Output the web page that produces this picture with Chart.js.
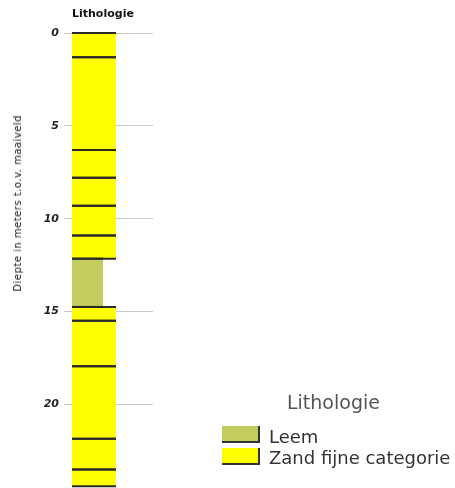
<!DOCTYPE html>
<html>
<head>
<meta charset="utf-8">
<script src="https://cdn.jsdelivr.net/npm/chart.js@4/dist/chart.umd.min.js"></script>
<style>
  html, body { margin: 0; padding: 0; background: #fff; }
  #wrap { position: relative; width: 455px; height: 488px; overflow: hidden; font-family: "DejaVu Sans", sans-serif; }
  #boring { position: absolute; left: 0; top: 0; }
  #title { position: absolute; left: 72px; top: 7px; font-size: 11px; font-weight: bold; color: #111; }
  #ytitle { position: absolute; left: 12px; top: 115px; font-size: 10px; line-height: 12px; color: #111; white-space: nowrap;
            writing-mode: vertical-rl; transform: rotate(180deg); letter-spacing: 0.5px; }
  #legend .lt { position: absolute; left: 287px; top: 393px; font-size: 19px; line-height: 19px; color: #555; }
  #legend .sw { position: absolute; left: 222px; width: 36px; height: 15px;
                border-right: 2px solid #333; border-bottom: 2px solid #333; }
  #legend .tx { position: absolute; left: 269px; font-size: 18px; line-height: 18px; color: #333; white-space: nowrap; }
</style>
</head>
<body>
<div id="wrap">
  <canvas id="boring" width="455" height="488"></canvas>
  <div id="title">Lithologie</div>
  <div id="ytitle">Diepte in meters t.o.v. maaiveld</div>
  <div id="legend"></div>
</div>
<script>
// Boring log: depth intervals (m below surface) and their lithology
const layerTop    = [0,   1.3, 6.3, 7.8, 9.3,  10.9,  12.15, 14.75, 15.5,  17.95, 21.85, 23.5];
const layerBottom = [1.3, 6.3, 7.8, 9.3, 10.9, 12.15, 14.75, 15.5,  17.95, 21.85, 23.5,  24.4];
const layerLithology = [
  'Zand fijne categorie', 'Zand fijne categorie', 'Zand fijne categorie', 'Zand fijne categorie',
  'Zand fijne categorie', 'Zand fijne categorie', 'Leem', 'Zand fijne categorie',
  'Zand fijne categorie', 'Zand fijne categorie', 'Zand fijne categorie', 'Zand fijne categorie'
];
const lithologyClasses = ['Leem', 'Zand fijne categorie'];
const depthTicks = [0, 5, 10, 15, 20];

// Drawing style per lithology: fill colour and column width (fraction of the plot width)
const lithoColor = { 'Leem': '#c3cc5e', 'Zand fijne categorie': '#ffff00' };
const lithoWidth = { 'Leem': 0.383, 'Zand fijne categorie': 0.543 };
const boundaryColor = '#2a2a2a';

// Each layer is drawn as its upper and lower boundary; the upper one is filled down to the lower one
const datasets = [];
layerTop.forEach((top, i) => {
  const litho = layerLithology[i];
  const w = lithoWidth[litho];
  const bottom = layerBottom[i];
  const edge = {
    showLine: true,
    borderColor: boundaryColor,
    borderWidth: 2,
    pointRadius: 0,
    pointHoverRadius: 0,
    clip: false
  };
  datasets.push(Object.assign({}, edge, {
    label: litho,
    data: [{ x: 0, y: top }, { x: w, y: top }],
    fill: '+1',
    backgroundColor: lithoColor[litho]
  }));
  datasets.push(Object.assign({}, edge, {
    label: litho + ' (onderkant)',
    data: [{ x: 0, y: bottom }, { x: w, y: bottom }],
    fill: false
  }));
});

new Chart(document.getElementById('boring'), {
  type: 'scatter',
  data: { datasets },
  options: {
    responsive: false,
    animation: false,
    events: [],
    layout: { padding: { top: 33, right: 302, bottom: 0, left: 0 } },
    plugins: {
      legend: { display: false },
      tooltip: { enabled: false },
      filler: { drawTime: 'beforeDatasetsDraw' }
    },
    scales: {
      x: { type: 'linear', display: false, min: 0, max: 1 },
      y: {
        type: 'linear',
        reverse: true,
        min: 0,
        max: 24.5,
        afterFit: s => {
          s.width = 72;
          // the depth column runs to the lower edge of the canvas
          s.paddingTop = 0;
          s.paddingBottom = 0;
        },
        afterBuildTicks: s => { s.ticks = depthTicks.map(v => ({ value: v })); },
        border: { display: false },
        grid: { color: '#c8c8c8', lineWidth: 1, tickLength: 8, drawTicks: true },
        ticks: {
          padding: 5,
          color: '#222',
          font: { family: 'DejaVu Sans', size: 11, weight: 'bold', style: 'italic' }
        }
      }
    }
  }
});

// Legend for the lithology classes
const legend = document.getElementById('legend');
const lt = document.createElement('div');
lt.className = 'lt';
lt.textContent = 'Lithologie';
legend.appendChild(lt);
const swatchTop = [426, 448];
const textTop = [428, 449];
lithologyClasses.forEach((name, i) => {
  const sw = document.createElement('div');
  sw.className = 'sw';
  sw.style.top = swatchTop[i] + 'px';
  sw.style.background = lithoColor[name];
  const tx = document.createElement('div');
  tx.className = 'tx';
  tx.style.top = textTop[i] + 'px';
  tx.textContent = name;
  legend.appendChild(sw);
  legend.appendChild(tx);
});
</script>
</body>
</html>
